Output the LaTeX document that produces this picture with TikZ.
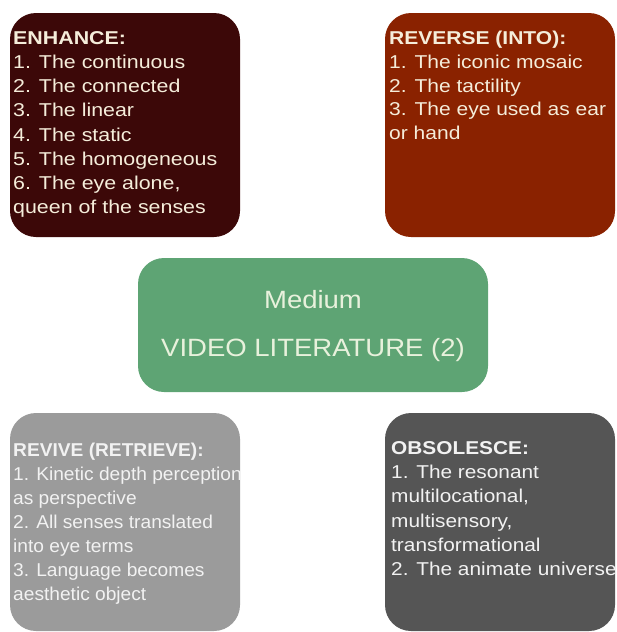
\documentclass[tikz,border=0pt]{standalone}
\usepackage{fontspec}
\setmainfont{Liberation Sans}
\newfontfamily\fTL{Liberation Sans}[FakeStretch=1.15]
\newfontfamily\fTR{Liberation Sans}[FakeStretch=1.13]
\newfontfamily\fBL{Liberation Sans}[FakeStretch=1.03]
\newfontfamily\fBR{Liberation Sans}[FakeStretch=1.12]
\newfontfamily\fC{Liberation Sans}[FakeStretch=1.10]
\definecolor{cEnh}{HTML}{3C0808}
\definecolor{cRev}{HTML}{8A2200}
\definecolor{cMed}{HTML}{5EA474}
\definecolor{cRet}{HTML}{9B9B9B}
\definecolor{cObs}{HTML}{555555}
\definecolor{cream}{HTML}{F5EDDA}
\definecolor{paleW}{HTML}{F2F2F2}
\definecolor{paleG}{HTML}{E8F1DC}
\begin{document}
\begin{tikzpicture}[x=1pt,y=-1pt,
  card/.style={rectangle, rounded corners=26pt, inner sep=0, draw=none},
  txt/.style={anchor=north west, inner sep=0, align=left}]
\useasboundingbox (0,0) rectangle (617,632);
\node[card, fill=cEnh, minimum width=230pt, minimum height=224pt] (enh) at (125,125) {};
\node[card, fill=cRev, minimum width=230pt, minimum height=224pt] (rev) at (500,125) {};
\node[card, fill=cMed, minimum width=350pt, minimum height=134pt] (med) at (313,325) {};
\node[card, fill=cRet, minimum width=230pt, minimum height=218pt] (ret) at (125,522) {};
\node[card, fill=cObs, minimum width=230pt, minimum height=218pt] (obs) at (500,522) {};

\node[txt, text=cream, font=\fTL\fontsize{18.6}{24.1}\selectfont] (enhT) at (13,27.6)
 {\strut\textbf{ENHANCE:}\\1. The continuous\\2. The connected\\3. The linear\\4. The static\\5. The homogeneous\\6. The eye alone,\\queen of the senses};
\node[txt, text=cream, font=\fTR\fontsize{18.6}{23.75}\selectfont] (revT) at (389,27.9)
 {\strut\textbf{REVERSE (INTO):}\\1. The iconic mosaic\\2. The tactility\\3. The eye used as ear\\or hand};
\node[txt, text=paleW, font=\fBL\fontsize{18.6}{24}\selectfont] (retT) at (13,439.2)
 {\strut\textbf{REVIVE (RETRIEVE):}\\1. Kinetic depth perception\\as perspective\\2. All senses translated\\into eye terms\\3. Language becomes\\aesthetic object};
\node[txt, text=paleW, font=\fBR\fontsize{18.6}{24.3}\selectfont] (obsT) at (391,437.0)
 {\strut\textbf{OBSOLESCE:}\\1. The resonant\\multilocational,\\multisensory,\\transformational\\2. The animate universe};

\node[anchor=base, inner sep=0, text=paleG, font=\fC\fontsize{25}{30}\selectfont] (medT1) at (313,308) {Medium};
\node[anchor=base, inner sep=0, text=paleG, font=\fC\fontsize{25}{30}\selectfont] (medT2) at (313,356) {VIDEO LITERATURE (2)};
\end{tikzpicture}
\end{document}
